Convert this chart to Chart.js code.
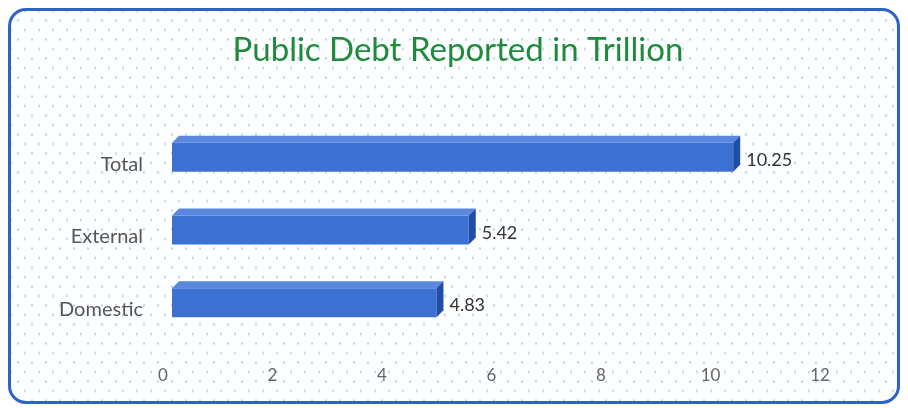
<!DOCTYPE html>
<html>
<head>
<meta charset="utf-8">
<script src="https://cdn.jsdelivr.net/npm/chart.js@4"></script>
<style>
  html, body { margin: 0; padding: 0; background: #fff; }
  #frame {
    position: absolute; left: 8px; top: 8px; width: 886px; height: 390px;
    border: 3px solid #2d63c8; border-radius: 18px;
    background-color: #fdfeff;
    background-image: radial-gradient(circle, #c3d0e6 1px, transparent 1.3px),
                      radial-gradient(circle, #c3d0e6 1px, transparent 1.3px);
    background-size: 14px 19px, 14px 19px;
    background-position: 0 0, 7px 9.5px;
  }
  #wrap { position: absolute; left: 0; top: 0; width: 908px; height: 408px; }
</style>
</head>
<body>
<div id="frame"></div>
<div id="wrap"><canvas id="debtChart" width="908" height="408"></canvas></div>
<script>
// Chart data
const categories = ['Total', 'External', 'Domestic'];
const debtValues = [10.25, 5.42, 4.83];
const axisMax = 12;
const axisStep = 2;
const chartTitle = 'Public Debt Reported in Trillion';

const FONT = "'Lato', 'Open Sans', sans-serif";
const DEPTH = 7;
const SHIFT = 9; // bars sit a little right of zero in the original 3D view

// Title centred on the whole frame, not the plot area
const titlePlugin = {
  id: 'pageTitle',
  afterDraw(chart) {
    const ctx = chart.ctx;
    ctx.save();
    ctx.fillStyle = '#1d8b3b';
    ctx.font = '33px ' + FONT;
    ctx.textAlign = 'center';
    ctx.textBaseline = 'middle';
    ctx.fillText(chartTitle, 458, 50);
    ctx.restore();
  }
};

// Draw top and right faces so bars look like the 3D bars in the original
const bar3d = {
  id: 'bar3d',
  beforeDatasetsDraw(chart) {
    chart.ctx.save();
    chart.ctx.translate(SHIFT, 0);
  },
  afterDatasetsDraw(chart) {
    const ctx = chart.ctx;
    const meta = chart.getDatasetMeta(0);
    meta.data.forEach((bar, i) => {
      const { x, y, base, height } = bar.getProps(['x', 'y', 'base', 'height'], true);
      const top = y - height / 2;
      const bottom = y + height / 2;
      // top face
      ctx.fillStyle = '#5a88de';
      ctx.beginPath();
      ctx.moveTo(base, top);
      ctx.lineTo(base + DEPTH, top - DEPTH);
      ctx.lineTo(x + DEPTH, top - DEPTH);
      ctx.lineTo(x, top);
      ctx.closePath();
      ctx.fill();
      // right face
      ctx.fillStyle = '#1f4ea8';
      ctx.beginPath();
      ctx.moveTo(x, top);
      ctx.lineTo(x + DEPTH, top - DEPTH);
      ctx.lineTo(x + DEPTH, bottom - DEPTH);
      ctx.lineTo(x, bottom);
      ctx.closePath();
      ctx.fill();
      // value label
      ctx.fillStyle = '#333';
      ctx.font = '18px ' + FONT;
      ctx.textAlign = 'left';
      ctx.textBaseline = 'middle';
      ctx.fillText(debtValues[i].toFixed(2), x + DEPTH + 6, y + 3);
    });
    ctx.restore();
  }
};

const ctx = document.getElementById('debtChart').getContext('2d');
new Chart(ctx, {
  type: 'bar',
  data: {
    labels: categories,
    datasets: [{
      data: debtValues,
      backgroundColor: '#3c71d3',
      borderWidth: 0,
      categoryPercentage: 1,
      barPercentage: 0.4
    }]
  },
  options: {
    indexAxis: 'y',
    responsive: false,
    animation: false,
    layout: { padding: { left: 0, right: 88, top: 121, bottom: 0 } },
    plugins: {
      legend: { display: false },
      tooltip: { enabled: false },
      title: { display: false }
    },
    scales: {
      x: {
        min: 0,
        max: axisMax,
        grid: { display: false },
        border: { display: false },
        ticks: {
          stepSize: axisStep,
          color: '#666',
          padding: 18,
          font: { family: FONT, size: 17 }
        },
        afterFit(scale) { scale.height = 69; }
      },
      y: {
        grid: { display: false },
        border: { display: false },
        ticks: {
          color: '#555',
          padding: 12,
          labelOffset: 7,
          font: { family: FONT, size: 20 }
        },
        afterFit(scale) { scale.width = 163; }
      }
    }
  },
  plugins: [bar3d, titlePlugin]
});
</script>
</body>
</html>
